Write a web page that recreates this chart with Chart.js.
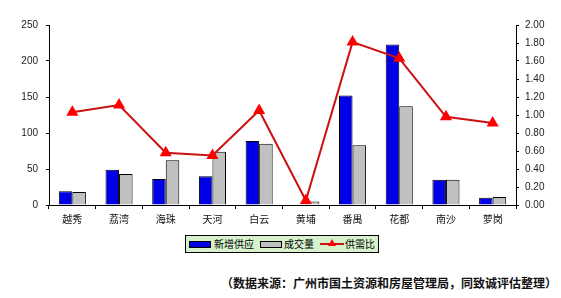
<!DOCTYPE html>
<html>
<head>
<meta charset="utf-8">
<script src="https://cdn.jsdelivr.net/npm/chart.js@4"></script>
<style>
  html,body{margin:0;padding:0;background:#fff;}
  #wrap{position:relative;width:561px;height:298px;overflow:hidden;}
  #chartBox{position:absolute;left:0;top:0;width:561px;height:230px;}
  #legend{position:absolute;left:185px;top:235px;width:192px;height:16px;border:1px solid #000;background:#d6f2cc;
    font:10px "Noto Sans CJK SC",sans-serif;color:#000;}
  #legend .sw{position:absolute;top:5px;height:5px;border:1px solid #000;}
  #legend .tx{position:absolute;top:1px;line-height:14px;}
  #legend .ln{position:absolute;top:7px;height:2px;background:#cc1111;}
  #legend .tri{position:absolute;top:3px;width:0;height:0;border-left:4px solid transparent;border-right:4px solid transparent;border-bottom:7px solid #ff0000;}
  #source{position:absolute;right:4px;top:274px;font:bold 12px "Noto Sans CJK SC",sans-serif;color:#111;white-space:nowrap;}
</style>
</head>
<body>
<div id="wrap">
  <div id="chartBox"><canvas id="mainChart"></canvas></div>
  <div id="legend">
    <span class="sw" style="left:3px;width:20px;background:#0000e6"></span>
    <span class="tx" style="left:28px">新增供应</span>
    <span class="sw" style="left:74px;width:20px;background:#c0c0c0"></span>
    <span class="tx" style="left:98px">成交量</span>
    <span class="ln" style="left:134px;width:24px"></span>
    <span class="tri" style="left:142px"></span>
    <span class="tx" style="left:159px">供需比</span>
  </div>
  <div id="source">（数据来源：广州市国土资源和房屋管理局，同致诚评估整理）</div>
</div>
<script>
// district names along the x axis
const districts = ['越秀','荔湾','海珠','天河','白云','黄埔','番禺','花都','南沙','萝岗'];
// new supply and transactions (left axis)
const newSupply = [19, 49, 36, 40, 89, 0, 152, 223, 35, 10];
const deals = [18, 43, 62, 74, 85, 5, 83, 137, 35, 11];
// supply/demand ratio (right axis)
const ratio = [1.03, 1.11, 0.58, 0.55, 1.05, 0.05, 1.81, 1.63, 0.98, 0.91];

const tickFont = {family:'"Liberation Sans", Arial, sans-serif', size:10};
const catFont = {family:'"Noto Sans CJK SC", sans-serif', size:10};

new Chart(document.getElementById('mainChart'), {
  type:'bar',
  data:{
    labels:districts,
    datasets:[
      {label:'新增供应',data:newSupply,backgroundColor:'#0000e6',borderColor:'#000',borderWidth:1,
       categoryPercentage:0.58,barPercentage:1,yAxisID:'y',order:2},
      {label:'成交量',data:deals,backgroundColor:'#c0c0c0',borderColor:'#000',borderWidth:1,
       categoryPercentage:0.58,barPercentage:1,yAxisID:'y',order:2},
      {type:'line',label:'供需比',data:ratio,borderColor:'#cc1111',borderWidth:2,
       pointStyle:'triangle',pointRadius:5,pointBackgroundColor:'#ff0000',pointBorderColor:'#ff0000',
       yAxisID:'y1',order:1,tension:0}
    ]
  },
  options:{
    responsive:true,maintainAspectRatio:false,animation:false,
    layout:{padding:{top:25,left:0,right:0,bottom:0}},
    plugins:{legend:{display:false},tooltip:{enabled:false}},
    scales:{
      x:{
        offset:true,
        grid:{display:true,drawOnChartArea:false,offset:true,tickLength:4,color:'#000'},
        border:{color:'#000',width:1},
        ticks:{font:catFont,color:'#111',padding:4,maxRotation:0},
        afterFit(s){s.height=25;}
      },
      y:{
        position:'left',min:0,max:250,
        grid:{drawOnChartArea:false,tickLength:3,color:'#000'},
        border:{color:'#000',width:1},
        ticks:{stepSize:50,font:tickFont,color:'#222',padding:8},
        afterFit(s){s.width=49;}
      },
      y1:{
        position:'right',min:0,max:2,
        grid:{drawOnChartArea:false,tickLength:3,color:'#000'},
        border:{color:'#000',width:1},
        ticks:{stepSize:0.2,font:tickFont,color:'#222',padding:6,callback:v=>v.toFixed(2)},
        afterFit(s){s.width=45;}
      }
    }
  }
});
</script>
</body>
</html>
